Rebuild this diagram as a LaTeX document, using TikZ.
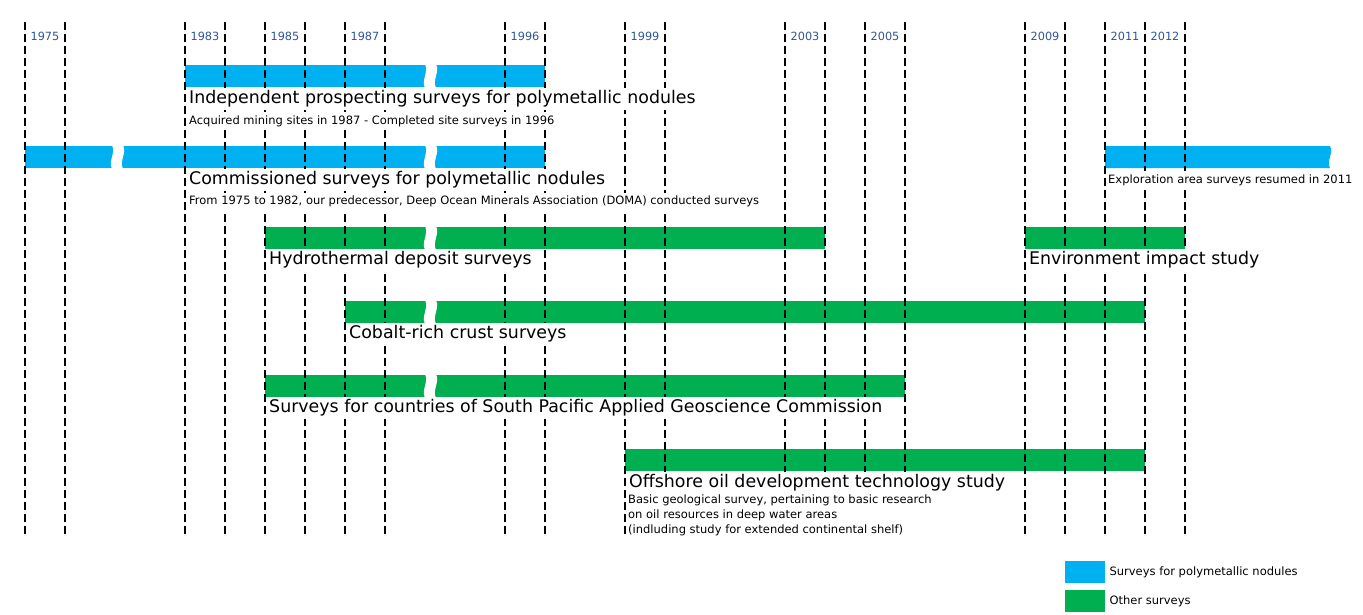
\documentclass[tikz,border=0pt]{standalone}
\usepackage{fontspec}
\setmainfont{DejaVu Sans}
\usetikzlibrary{positioning}
\definecolor{NoduleBlue}{HTML}{00B0F0}
\definecolor{OtherGreen}{HTML}{00B050}
\definecolor{YearBlue}{HTML}{2F5597}
\tikzset{
  yrline/.style={draw=black,line width=2pt,dash pattern=on 8pt off 4pt},
  yrlabel/.style={font=\fontsize{11.3}{13}\selectfont,text=YearBlue,inner sep=0pt},
  nodbar/.style={fill=NoduleBlue},
  othbar/.style={fill=OtherGreen},
  ttlnode/.style={
    anchor=base west,fill=white,font=\fontsize{17.4}{20}\selectfont,
    text height=13pt,text depth=4pt,inner xsep=1pt,inner ysep=2.5pt
  },
  subnode/.style={
    anchor=base west,fill=white,font=\fontsize{11.5}{15}\selectfont,
    inner xsep=1pt,inner ysep=3pt
  },
  legbox/.style={anchor=north west,minimum width=40pt,minimum height=22pt,inner sep=0pt},
  legtext/.style={font=\fontsize{11.5}{14}\selectfont,inner sep=0pt},
}

\begin{document}
\begin{tikzpicture}[x=1pt,y=-1pt]
  \useasboundingbox (0,0) rectangle (1363,614);
  % Bars
  \fill[nodbar] (185,65) rectangle (545,87);
  \fill[nodbar] (25,146) rectangle (545,168);
  \fill[nodbar] (1105,146) -- (1330,146) .. controls (1334,153) and (1326,161) .. (1330,168) -- (1105,168) -- cycle;
  \fill[othbar] (265,227) rectangle (825,249);
  \fill[othbar] (1025,227) rectangle (1185,249);
  \fill[othbar] (345,301) rectangle (1145,323);
  \fill[othbar] (265,375) rectangle (905,397);
  \fill[othbar] (625,449) rectangle (1145,471);
  % Breaks in the bars
  \foreach \t in {65,146,227,301,375}
    \fill[white] (425,\t-1) .. controls (429,\t+7) and (421,\t+15) .. (425,\t+23)
      -- (436,\t+23) .. controls (432,\t+15) and (440,\t+7) .. (436,\t-1) -- cycle;
  \fill[white] (112,145) .. controls (116,153) and (108,161) .. (112,169)
    -- (123,169) .. controls (119,161) and (127,153) .. (123,145) -- cycle;
  % Year lines
  \foreach \xx in {25,65,185,225,265,305,345,385,505,545,625,665,785,825,865,905,1025,1065,1105,1145,1185}
    \draw[yrline] (\xx,22) -- (\xx,537);
  \foreach \xx/\yr in {25/1975,185/1983,265/1985,345/1987,505/1996,625/1999,785/2003,865/2005,1025/2009,1105/2011,1145/2012}
    \node[yrlabel] (y\yr) at (\xx+20,36) {\yr};
  % Labels
  \node[ttlnode] (indep) at (188,103.5) {Independent prospecting surveys for polymetallic nodules};
  \node[subnode] (indepnote) at (188,124) {Acquired mining sites in 1987 - Completed site surveys in 1996};
  \node[ttlnode] (commis) at (188,184.5) {Commissioned surveys for polymetallic nodules};
  \node[subnode] (commisnote) at (188,204.5) {From 1975 to 1982, our predecessor, Deep Ocean Minerals Association (DOMA) conducted surveys};
  \node[subnode] (explor) at (1107,183) {Exploration area surveys resumed in 2011};
  \node[ttlnode] (hydro) at (268,264.5) {Hydrothermal deposit surveys};
  \node[ttlnode] (envir) at (1028,264.5) {Environment impact study};
  \node[ttlnode] (cobalt) at (348,338) {Cobalt-rich crust surveys};
  \node[ttlnode] (sopac) at (268,412) {Surveys for countries of South Pacific Applied Geoscience Commission};
  \node[ttlnode] (offsh) at (628,487.5) {Offshore oil development technology study};
  \node[subnode,anchor=north west,align=left] (offshnote) at (627,491.5)
    {Basic geological survey, pertaining to basic research\\on oil resources in deep water areas\\(indluding study for extended continental shelf)};
  % Legend
  \node[legbox,fill=NoduleBlue] (legnod) at (1065,561) {};
  \node[legbox,fill=OtherGreen] (legoth) at (1065,590) {};
  \node[legtext,right=4pt of legnod] (legnodtxt) {Surveys for polymetallic nodules};
  \node[legtext,right=4pt of legoth] (legothtxt) {Other surveys};
\end{tikzpicture}
\end{document}
